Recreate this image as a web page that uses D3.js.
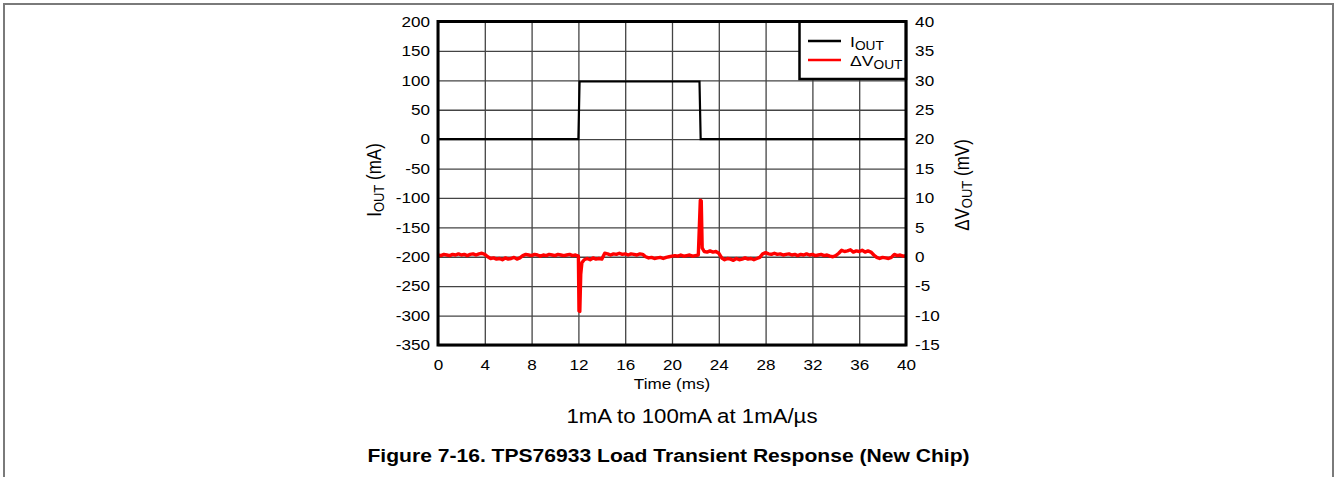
<!DOCTYPE html>
<html>
<head>
<meta charset="utf-8">
<script src="https://cdn.jsdelivr.net/npm/d3@7"></script>
<style>
  body { margin: 0; background: #fff; }
  text { font-family: "Liberation Sans", Arial, sans-serif; fill: #000; }
</style>
</head>
<body>
<svg id="chart" width="1335" height="477"></svg>
<script>
// time axis ticks (ms) and the two value axes
var timeTicks = [0, 4, 8, 12, 16, 20, 24, 28, 32, 36, 40];
var ioutTicks = [-350, -300, -250, -200, -150, -100, -50, 0, 50, 100, 150, 200];
var dvTicks = [-15, -10, -5, 0, 5, 10, 15, 20, 25, 30, 35, 40];

// I_OUT trace (mA)
var iTime = [0, 12.0, 12.1, 22.35, 22.45, 40];
var iOut = [0, 0, 98, 98, 0, 0];

// dV_OUT trace (mV)
var vTime = [
  0, 0.25, 0.5, 0.75, 1, 1.25, 1.5, 1.75, 2, 2.25, 2.5, 2.75, 3, 3.25, 3.5, 3.75, 4,
  4.25, 4.5, 4.75, 5, 5.25, 5.5, 5.75, 6, 6.25, 6.5, 6.75, 7,
  7.25, 7.5, 7.75, 8, 8.25, 8.5, 8.75, 9, 9.25, 9.5, 9.75, 10, 10.25, 10.5, 10.75, 11, 11.25, 11.5, 11.75, 12,
  12.05, 12.12, 12.2, 12.3,
  12.5, 12.75, 13, 13.25, 13.5, 13.75, 14,
  14.25, 14.5, 14.75, 15, 15.25, 15.5, 15.75, 16, 16.25, 16.5, 16.75, 17, 17.25, 17.5,
  17.75, 18, 18.25, 18.5, 18.75, 19, 19.25, 19.5, 19.75, 20,
  20.25, 20.5, 20.75, 21, 21.25, 21.5, 21.75, 22, 22.25,
  22.42, 22.5, 22.58,
  22.75, 23, 23.25, 23.5, 23.75, 24,
  24.25, 24.5, 24.75, 25, 25.25, 25.5, 25.75, 26, 26.25, 26.5, 26.75, 27, 27.25, 27.5,
  27.75, 28, 28.25, 28.5, 28.75, 29, 29.25, 29.5, 29.75, 30, 30.25, 30.5, 30.75, 31, 31.25, 31.5, 31.75, 32,
  32.25, 32.5, 32.75, 33, 33.25, 33.5,
  33.75, 34, 34.25,
  34.5, 34.75, 35, 35.25, 35.5, 35.75, 36, 36.25, 36.5, 36.75, 37,
  37.25, 37.5, 37.75, 38, 38.25, 38.5, 38.75,
  39, 39.25, 39.5, 39.75, 40];
var vOut = [
  0.3, 0.2, 0.4, 0.3, 0.2, 0.4, 0.3, 0.5, 0.3, 0.4, 0.2, 0.4, 0.5, 0.3, 0.5, 0.6, 0.4,
  0.0, -0.3, -0.2, -0.4, -0.3, -0.5, -0.2, -0.4, -0.3, -0.1, -0.4, -0.2,
  0.2, 0.4, 0.3, 0.2, 0.4, 0.3, 0.1, 0.3, 0.2, 0.4, 0.3, 0.2, 0.4, 0.3, 0.2, 0.3, 0.4, 0.2, 0.3, 0.1,
  -9.2, -9.3, -3.0, -1.0,
  -0.5, -0.3, -0.5, -0.2, -0.4, -0.3, -0.4,
  0.6, 0.5, 0.3, 0.5, 0.4, 0.6, 0.4, 0.5, 0.3, 0.5, 0.4, 0.3, 0.5, 0.4,
  0.0, -0.2, -0.1, -0.3, -0.2, -0.1, -0.3, -0.1, 0.0, 0.1,
  0.2, 0.1, 0.3, 0.1, 0.2, 0.3, 0.1, 0.2, 0.3,
  9.6, 9.5, 1.5,
  0.9, 0.8, 1.0, 0.8, 0.9, 0.6,
  -0.2, -0.5, -0.3, -0.4, -0.6, -0.3, -0.5, -0.4, -0.2, -0.4, -0.3, -0.5, -0.3, -0.1,
  0.5, 0.7, 0.5, 0.4, 0.6, 0.4, 0.5, 0.3, 0.4, 0.5, 0.3, 0.4, 0.2, 0.4, 0.3, 0.5, 0.3, 0.4,
  0.2, 0.3, 0.4, 0.2, 0.3, 0.1,
  0.0, 0.2, 0.6,
  1.1, 0.9, 1.0, 1.2, 0.8, 1.0, 0.9, 1.1, 0.8, 1.0, 0.8,
  0.3, -0.1, -0.3, -0.1, -0.2, -0.3, -0.1,
  0.4, 0.2, 0.3, 0.1, 0.2];

var legendItems = [
  { label: "I", sub: "OUT", color: "#000" },
  { label: "\u0394V", sub: "OUT", color: "#ff0000" }
];

// the reference is stretched a little sideways, so text gets the same stretch
var SX = 1.14;
var stretch = "scale(" + SX + ",1)";

var svg = d3.select("#chart");

// plot box edges (don't call these top/left: window.top is read-only)
var pLeft = 438, pRight = 906, pTop = 21.5, pBottom = 345;

var x = d3.scaleLinear().domain([0, 40]).range([pLeft, pRight]);
var yI = d3.scaleLinear().domain([-350, 200]).range([pBottom, pTop]);
var yV = d3.scaleLinear().domain([-15, 40]).range([pBottom, pTop]);

// outer page frame (open at the bottom)
svg.append("path")
  .attr("d", "M4,477 V4 H1333 V477")
  .attr("fill", "none")
  .attr("stroke", "#7a7a7a")
  .attr("stroke-width", 2);

// grid
var grid = svg.append("g");
grid.append("g")
  .attr("transform", "translate(0," + pBottom + ")")
  .call(d3.axisBottom(x).tickValues(timeTicks).tickSize(-(pBottom - pTop)).tickFormat(""))
  .call(function (g) { g.select(".domain").remove(); });
grid.append("g")
  .attr("transform", "translate(" + pLeft + ",0)")
  .call(d3.axisLeft(yI).tickValues(ioutTicks).tickSize(-(pRight - pLeft)).tickFormat(""))
  .call(function (g) { g.select(".domain").remove(); });
grid.selectAll("line").attr("stroke", "#444").attr("stroke-width", 1.3);

// traces
var lineI = d3.line().x(function (d) { return x(d[0]); }).y(function (d) { return yI(d[1]); });
var lineV = d3.line().x(function (d) { return x(d[0]); }).y(function (d) { return yV(d[1]); });

svg.append("path")
  .datum(d3.zip(iTime, iOut))
  .attr("d", lineI)
  .attr("fill", "none")
  .attr("stroke", "#000")
  .attr("stroke-width", 2.2);

svg.append("path")
  .datum(d3.zip(vTime, vOut))
  .attr("d", lineV)
  .attr("fill", "none")
  .attr("stroke", "#ff0000")
  .attr("stroke-width", 3.4)
  .attr("stroke-linejoin", "round");

// legend box
var lg = svg.append("g");
lg.append("rect")
  .attr("x", 799.5).attr("y", pTop)
  .attr("width", pRight - 799.5).attr("height", 79 - pTop)
  .attr("fill", "#fff")
  .attr("stroke", "#000")
  .attr("stroke-width", 2.5);
legendItems.forEach(function (d, i) {
  var ly = 41 + i * 19;
  lg.append("line")
    .attr("x1", 808).attr("x2", 841)
    .attr("y1", ly).attr("y2", ly)
    .attr("stroke", d.color).attr("stroke-width", 2.5);
  var t = lg.append("text")
    .attr("transform", "translate(850," + (ly + 6) + ") " + stretch)
    .attr("font-size", 15.5);
  t.append("tspan").text(d.label);
  t.append("tspan").attr("font-size", 12).attr("dy", 3).text(d.sub);
});

// plot frame
svg.append("rect")
  .attr("x", pLeft).attr("y", pTop)
  .attr("width", pRight - pLeft).attr("height", pBottom - pTop)
  .attr("fill", "none")
  .attr("stroke", "#000")
  .attr("stroke-width", 3);

// tick labels, plain hyphen for negatives like the reference
function label(g) {
  g.select(".domain").remove();
  g.selectAll("line").remove();
  g.selectAll("text").attr("font-size", 15).attr("font-family", "Liberation Sans, Arial, sans-serif")
    .attr("transform", stretch);
}
var plain = function (d) { return String(d); };
svg.append("g")
  .attr("transform", "translate(0," + pBottom + ")")
  .call(d3.axisBottom(x).tickValues(timeTicks).tickFormat(plain).tickSize(0).tickPadding(14))
  .call(label);
svg.append("g")
  .attr("transform", "translate(" + pLeft + ",0)")
  .call(d3.axisLeft(yI).tickValues(ioutTicks).tickFormat(plain).tickSize(0).tickPadding(7))
  .call(label);
svg.append("g")
  .attr("transform", "translate(" + pRight + ",0)")
  .call(d3.axisRight(yV).tickValues(dvTicks).tickFormat(plain).tickSize(0).tickPadding(8))
  .call(label);

// axis titles
svg.append("text")
  .attr("transform", "translate(672,389) " + stretch)
  .attr("text-anchor", "middle")
  .attr("font-size", 15)
  .text("Time (ms)");

var yl = svg.append("text")
  .attr("transform", "translate(381,180) " + stretch + " rotate(-90)")
  .attr("text-anchor", "middle")
  .attr("font-size", 17);
yl.append("tspan").text("I");
yl.append("tspan").attr("font-size", 13).attr("dy", 3).text("OUT");
yl.append("tspan").attr("dy", -3).text(" (mA)");

var yr = svg.append("text")
  .attr("transform", "translate(969,185) " + stretch + " rotate(-90)")
  .attr("text-anchor", "middle")
  .attr("font-size", 17);
yr.append("tspan").text("\u0394V");
yr.append("tspan").attr("font-size", 13).attr("dy", 3).text("OUT");
yr.append("tspan").attr("dy", -3).text(" (mV)");

// captions
svg.append("text")
  .attr("transform", "translate(692,423) " + stretch)
  .attr("text-anchor", "middle")
  .attr("font-size", 19.5)
  .text("1mA to 100mA at 1mA/\u00b5s");

svg.append("text")
  .attr("transform", "translate(668.5,462) " + stretch)
  .attr("text-anchor", "middle")
  .attr("font-size", 18.5)
  .attr("font-weight", "bold")
  .text("Figure 7-16. TPS76933 Load Transient Response (New Chip)");
</script>
</body>
</html>
